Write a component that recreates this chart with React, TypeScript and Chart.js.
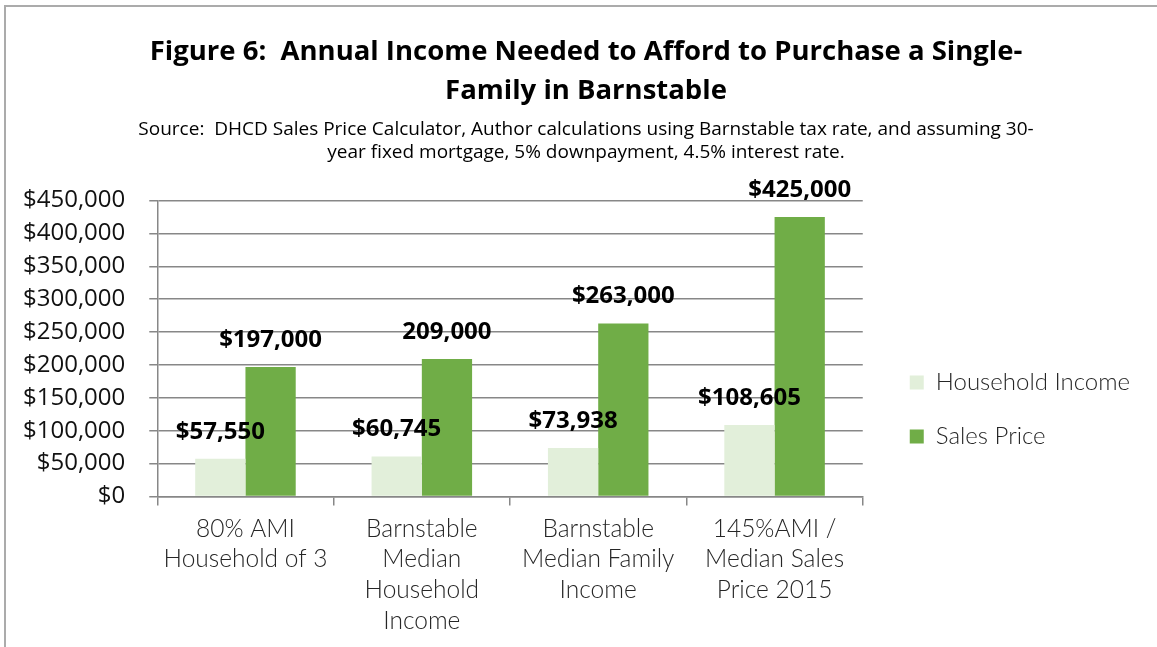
import React, { useEffect, useRef } from "react";
import { Chart, registerables } from "chart.js";

Chart.register(...registerables);

// ---------- data ----------
const categories: string[][] = [
  ["80% AMI", "Household of 3"],
  ["Barnstable", "Median", "Household", "Income"],
  ["Barnstable", "Median Family", "Income"],
  ["145%AMI /", "Median Sales", "Price 2015"],
];
const seriesNames = ["Household Income", "Sales Price"];
const householdIncome = [57550, 60745, 73938, 108605];
const salesPrice = [197000, 209000, 263000, 425000];
const householdLabels = ["$57,550", "$60,745", "$73,938", "$108,605"];
const salesLabels = ["$197,000", "209,000", "$263,000", "$425,000"];
const yMin = 0;
const yMax = 450000;
const yStep = 50000;
const titleLines = [
  "Figure 6:  Annual Income Needed to Afford to Purchase a Single-",
  "Family in Barnstable",
];
const subtitleLines = [
  "Source:  DHCD Sales Price Calculator, Author calculations using Barnstable tax rate, and assuming 30-",
  "year fixed mortgage, 5% downpayment, 4.5% interest rate.",
];

const LIGHT = "#E2EFDA";
const DARK = "#70AD47";
const GRID = "#878787";
const LEGEND_EXTRA = 50;

const valueLabelPlugin = {
  id: "valueLabels",
  afterDatasetsDraw(chart: any) {
    const ctx = chart.ctx;
    ctx.save();
    ctx.font = "bold 24px 'Open Sans'";
    ctx.fillStyle = "#000";
    ctx.textAlign = "center";
    ctx.textBaseline = "middle";
    chart.data.datasets.forEach((ds: any, i: number) => {
      const meta = chart.getDatasetMeta(i);
      meta.data.forEach((bar: any, j: number) => {
        ctx.fillText(ds.valueLabels[j], bar.x, bar.y - 27);
      });
    });
    ctx.restore();
  },
};

const legendPlacer = {
  id: "legendPlacer",
  beforeLayout(chart: any) {
    const lg = chart.legend;
    if (lg && !lg.__wrapped) {
      const orig = lg.fit;
      lg.fit = function (this: any) {
        orig.call(this);
        this.width += LEGEND_EXTRA;
      };
      lg.__wrapped = true;
    }
  },
  afterLayout(chart: any) {
    const lg = chart.legend;
    const ca = chart.chartArea;
    if (!lg || !ca) return;
    const w = lg.width;
    const h = lg.height;
    lg.left = ca.right + 17;
    lg.right = lg.left + w;
    const c = (ca.top + ca.bottom) / 2 + 61;
    lg.top = c - h / 2;
    lg.bottom = lg.top + h;
  },
};

export default function App() {
  const ref = useRef<HTMLCanvasElement | null>(null);

  useEffect(() => {
    if (!ref.current) return;
    const chart = new Chart(ref.current, {
      type: "bar",
      data: {
        labels: categories,
        datasets: [
          {
            label: seriesNames[0],
            data: householdIncome,
            backgroundColor: LIGHT,
            borderWidth: 0,
            valueLabels: householdLabels,
          } as any,
          {
            label: seriesNames[1],
            data: salesPrice,
            backgroundColor: DARK,
            borderWidth: 0,
            valueLabels: salesLabels,
          } as any,
        ],
      },
      options: {
        responsive: false,
        animation: false,
        layout: { padding: { left: -8, right: 0, top: 0, bottom: 3 } },
        datasets: {
          bar: { categoryPercentage: 0.57, barPercentage: 1 },
        },
        plugins: {
          title: {
            display: true,
            text: titleLines,
            color: "#000",
            font: { family: "'Open Sans'", size: 27.5, weight: "bold", lineHeight: 1.4 },
            padding: { top: 26, bottom: 4 },
          },
          subtitle: {
            display: true,
            text: subtitleLines,
            color: "#000",
            font: { family: "'Open Sans'", size: 19, lineHeight: 1.2 },
            padding: { top: 4, bottom: 37 },
          },
          legend: {
            position: "right",
            labels: {
              boxWidth: 14,
              boxHeight: 14,
              padding: 30,
              color: "#262626",
              font: { family: "Lato", size: 24, weight: 300 },
            },
          },
          tooltip: { enabled: false },
        },
        scales: {
          x: {
            grid: {
              offset: true,
              drawOnChartArea: false,
              drawTicks: true,
              tickLength: 9,
              color: GRID,
              lineWidth: 1.5,
            },
            border: { display: true, color: GRID, width: 1.5 },
            ticks: {
              color: "#262626",
              font: { family: "Lato", size: 24.5, weight: 300, lineHeight: 1.25 },
              padding: 8,
              maxRotation: 0,
              autoSkip: false,
            },
          },
          y: {
            min: yMin,
            max: yMax,
            grid: { color: GRID, lineWidth: 1.5, tickLength: 8, drawTicks: true },
            border: { display: true, color: GRID, width: 1.5 },
            ticks: {
              stepSize: yStep,
              color: "#111",
              font: { family: "'Open Sans'", size: 24 },
              padding: 24,
              callback: (v: any) => "$" + Number(v).toLocaleString("en-US"),
            },
          },
        },
      } as any,
      plugins: [valueLabelPlugin, legendPlacer],
    });
    return () => chart.destroy();
  }, []);

  return (
    <div
      style={{
        position: "fixed",
        left: 0,
        top: 0,
        width: 1157,
        height: 647,
        overflow: "hidden",
        background: "#fff",
      }}
    >
      <div
        style={{
          position: "absolute",
          left: 4,
          top: 5,
          width: 1400,
          height: 900,
          borderLeft: "2px solid #ABABAB",
          borderTop: "2px solid #ABABAB",
        }}
      />
      <canvas
        ref={ref}
        width={1166}
        height={640}
        style={{ position: "absolute", left: 7, top: 7, display: "block" }}
      />
    </div>
  );
}
